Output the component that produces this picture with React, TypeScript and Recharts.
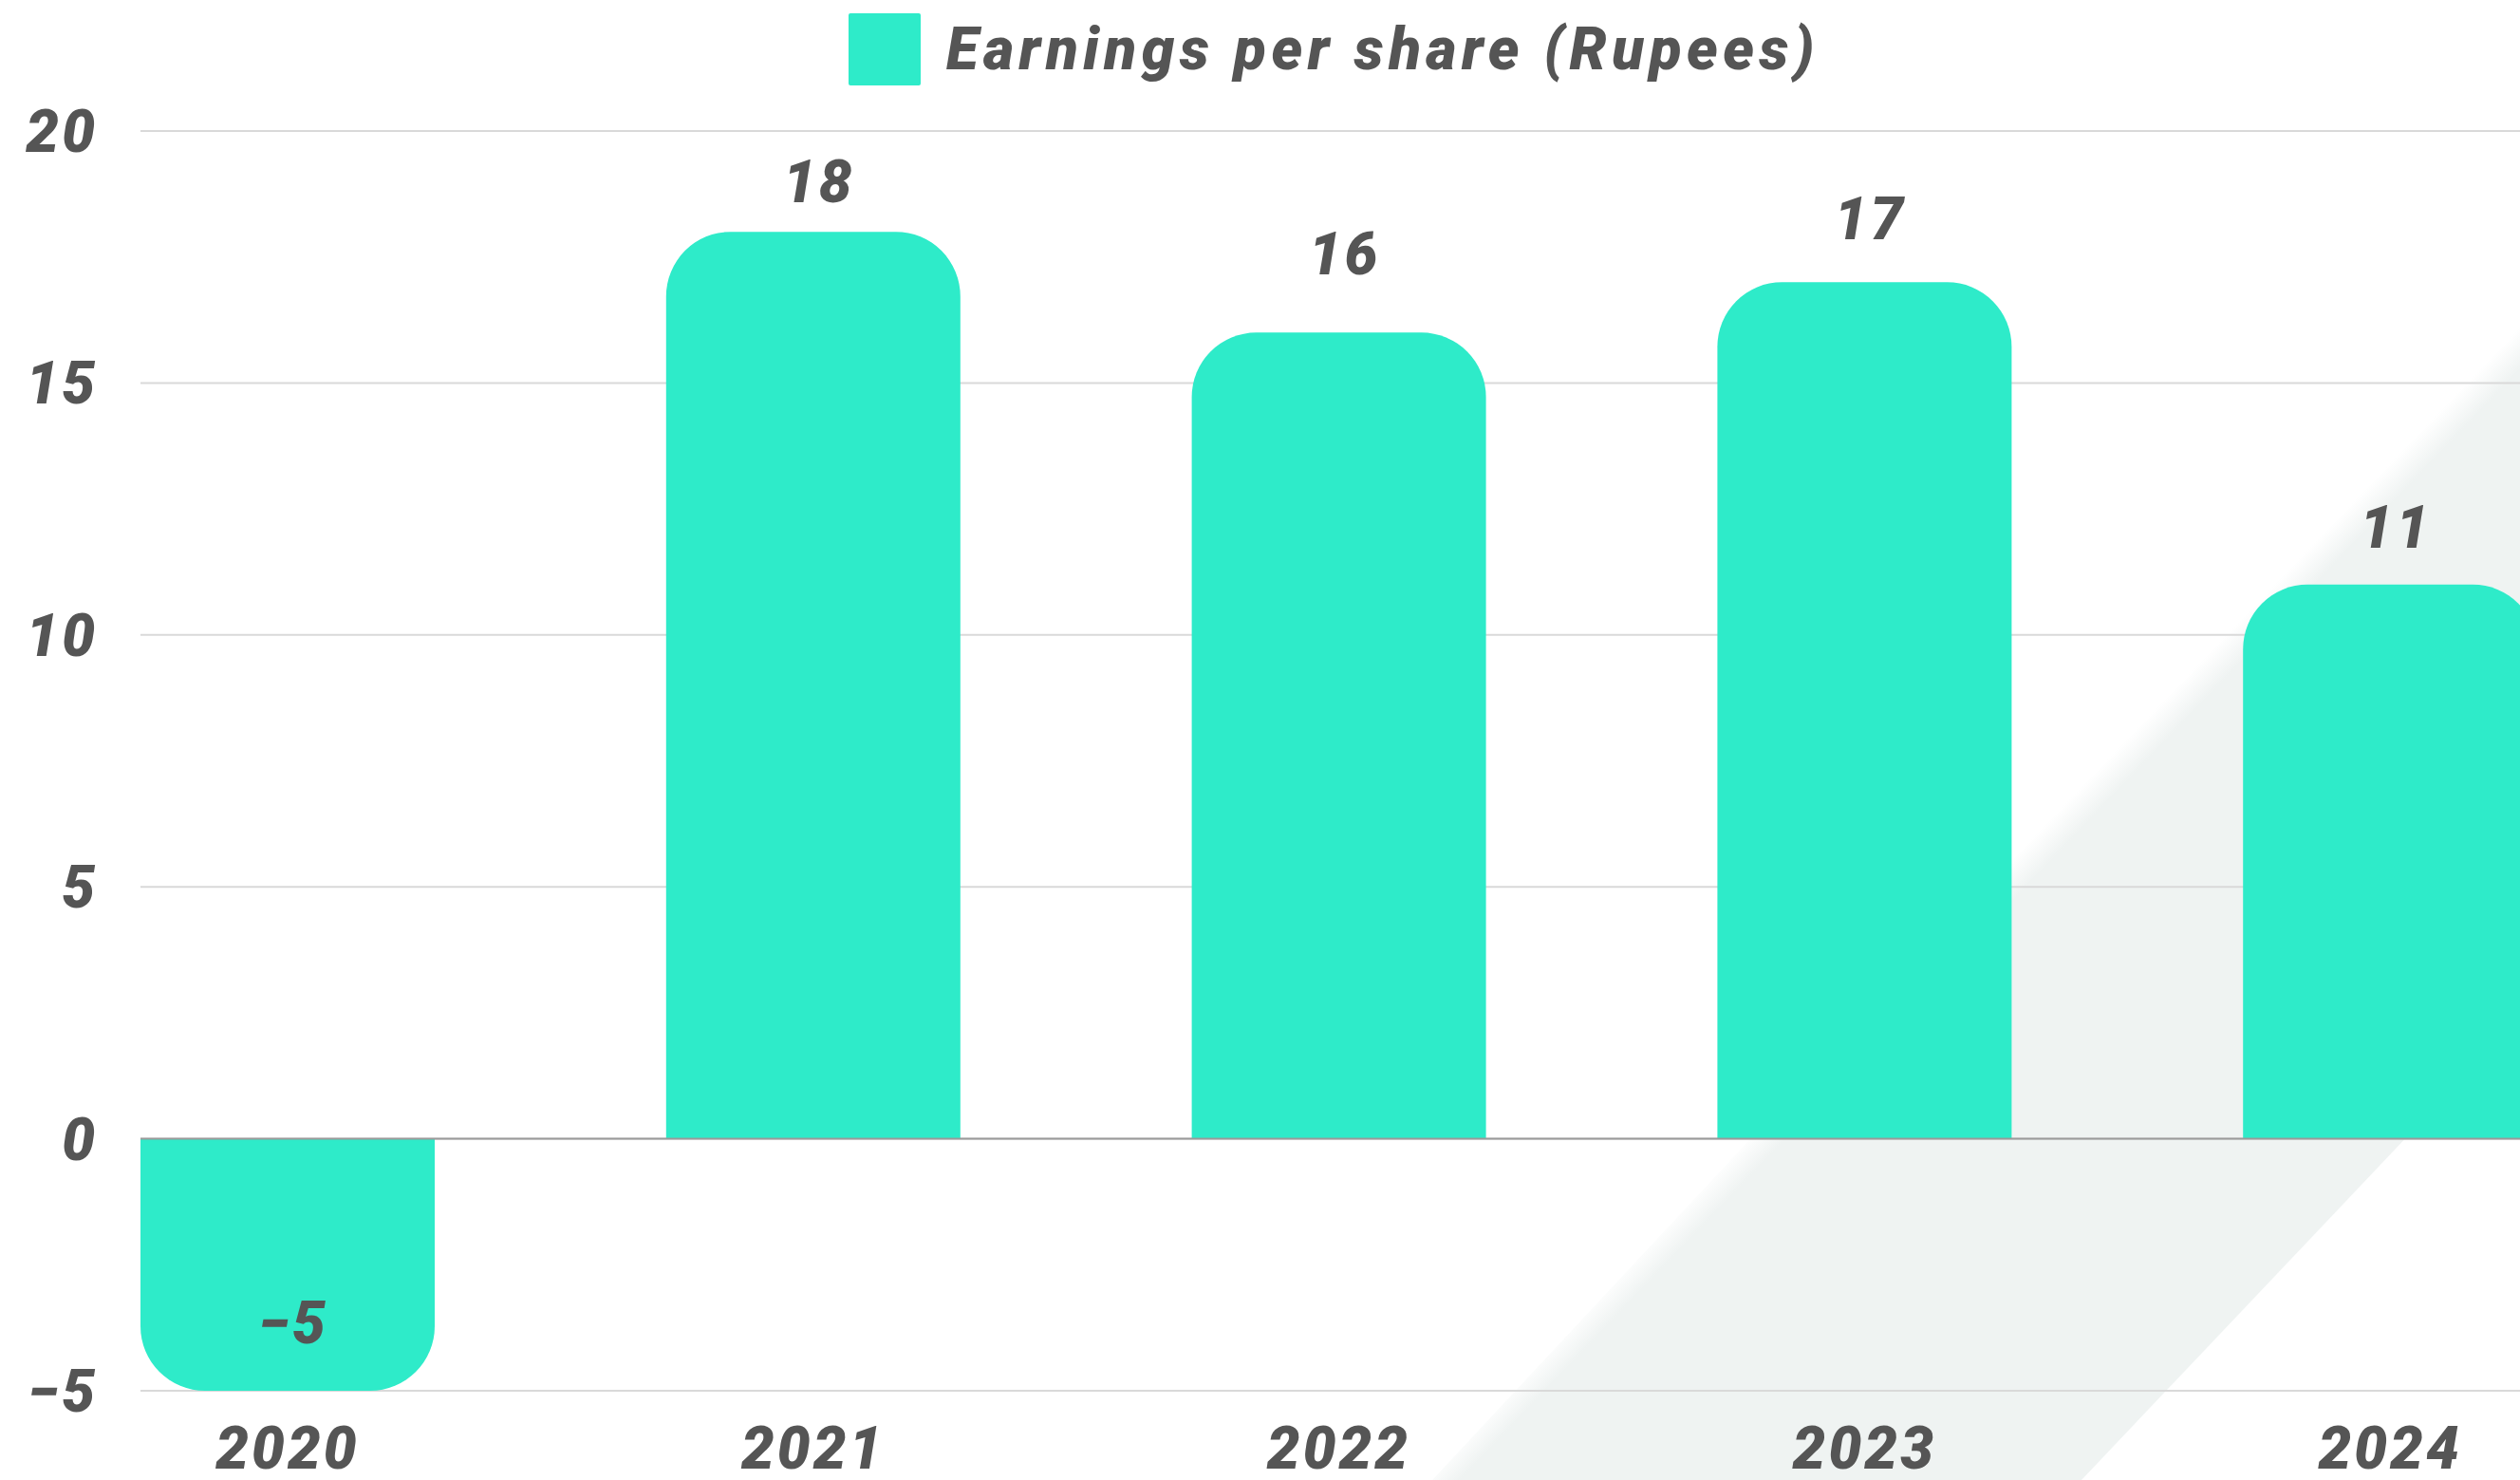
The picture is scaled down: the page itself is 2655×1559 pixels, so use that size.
import React from "react"
import { Bar, BarChart, CartesianGrid, LabelList, Legend, ReferenceLine, XAxis, YAxis } from "recharts"

const years = ["2020", "2021", "2022", "2023", "2024"]
const eps = [-5, 18, 16, 17, 11]
const yTicks = [-5, 0, 5, 10, 15, 20]

// gap (px) between a bar's end and its value label, as laid out in the original
const labelGap: Record<string, number> = { "2020": 50, "2021": 31, "2022": 61, "2023": 45, "2024": 39 }

const data = years.map((year, i) => ({ year, eps: eps[i] }))

const BAR_COLOR = "#2eebc9"
const TEXT_COLOR = "#555555"
const FONT = "Roboto, 'Open Sans', sans-serif"

const textStyle = {
  fontFamily: FONT,
  fontSize: 62,
  fontWeight: 900,
  fontStyle: "italic",
  fill: TEXT_COLOR,
  letterSpacing: 3,
}

const fmt = (v: number | string) => String(v).replace("-", "\u2212")

// value above positive bars, inside the rounded end for negative ones
const renderValueLabel = (props: any) => {
  const { x, y, width, height, value, index } = props
  const top = Math.min(Number(y), Number(y) + Number(height))
  const bottom = Math.max(Number(y), Number(y) + Number(height))
  const cx = Number(x) + Number(width) / 2 + 6
  const gap = labelGap[years[index]] ?? 31
  const baseline = Number(value) >= 0 ? top - gap : bottom - gap
  return (
    <text x={cx} y={baseline} textAnchor="middle" style={textStyle}>
      {fmt(value)}
    </text>
  )
}

const renderLegend = () => (
  <div style={{ display: "flex", alignItems: "flex-start", height: 124, marginLeft: 894 }}>
    <div style={{ width: 76, height: 76, background: BAR_COLOR, borderRadius: 2 }} />
    <div
      style={{
        marginLeft: 27,
        height: 76,
        lineHeight: "76px",
        fontFamily: FONT,
        fontSize: 62,
        fontWeight: 900,
        fontStyle: "italic",
        color: TEXT_COLOR,
        letterSpacing: 5.5,
        whiteSpace: "nowrap",
      }}
    >
      Earnings per share (Rupees)
    </div>
  </div>
)

export default function App() {
  return (
    <div
      style={{
        position: "fixed",
        left: 0,
        top: 0,
        width: 2655,
        height: 1559,
        overflow: "hidden",
        background: "#ffffff",
      }}
    >
      {/* background decoration stripe */}
      <svg width={2655} height={1559} style={{ position: "absolute", left: 0, top: 0 }}>
        <defs>
          <linearGradient id="stripe" gradientUnits="userSpaceOnUse" x1={2082} y1={945} x2={2104} y2={966}>
            <stop offset="0" stopColor="#ffffff" />
            <stop offset="1" stopColor="#eff3f2" />
          </linearGradient>
        </defs>
        <polygon points="1509,1559 2655,330 2655,1072 2193,1559" fill="url(#stripe)" />
      </svg>
      <div style={{ position: "absolute", left: 0, top: 0 }}>
        <BarChart
          width={2810}
          height={1559}
          data={data}
          margin={{ top: 14, right: 15, left: 0, bottom: 0 }}
          barSize={310}
        >
          <Legend
            verticalAlign="top"
            align="left"
            content={renderLegend}
            wrapperStyle={{ left: 0, top: 14, width: 2810 }}
          />
          <CartesianGrid vertical={false} stroke="#d9d9d9" strokeWidth={2} />
          <XAxis
            dataKey="year"
            axisLine={false}
            tickLine={false}
            tickSize={0}
            tickMargin={38}
            height={94}
            padding={{ left: -122, right: 0 }}
            tick={textStyle}
            interval={0}
          />
          <YAxis
            domain={[-5, 20]}
            ticks={yTicks}
            width={148}
            axisLine={false}
            tickLine={false}
            tickSize={0}
            tickMargin={45}
            tick={textStyle}
            tickFormatter={fmt}
            allowDataOverflow
          />
          <ReferenceLine y={0} stroke="#9a9a9a" strokeWidth={2} />
          <Bar dataKey="eps" fill={BAR_COLOR} radius={[68, 68, 0, 0]} isAnimationActive={false}>
            <LabelList dataKey="eps" content={renderValueLabel} />
          </Bar>
        </BarChart>
      </div>
    </div>
  )
}
